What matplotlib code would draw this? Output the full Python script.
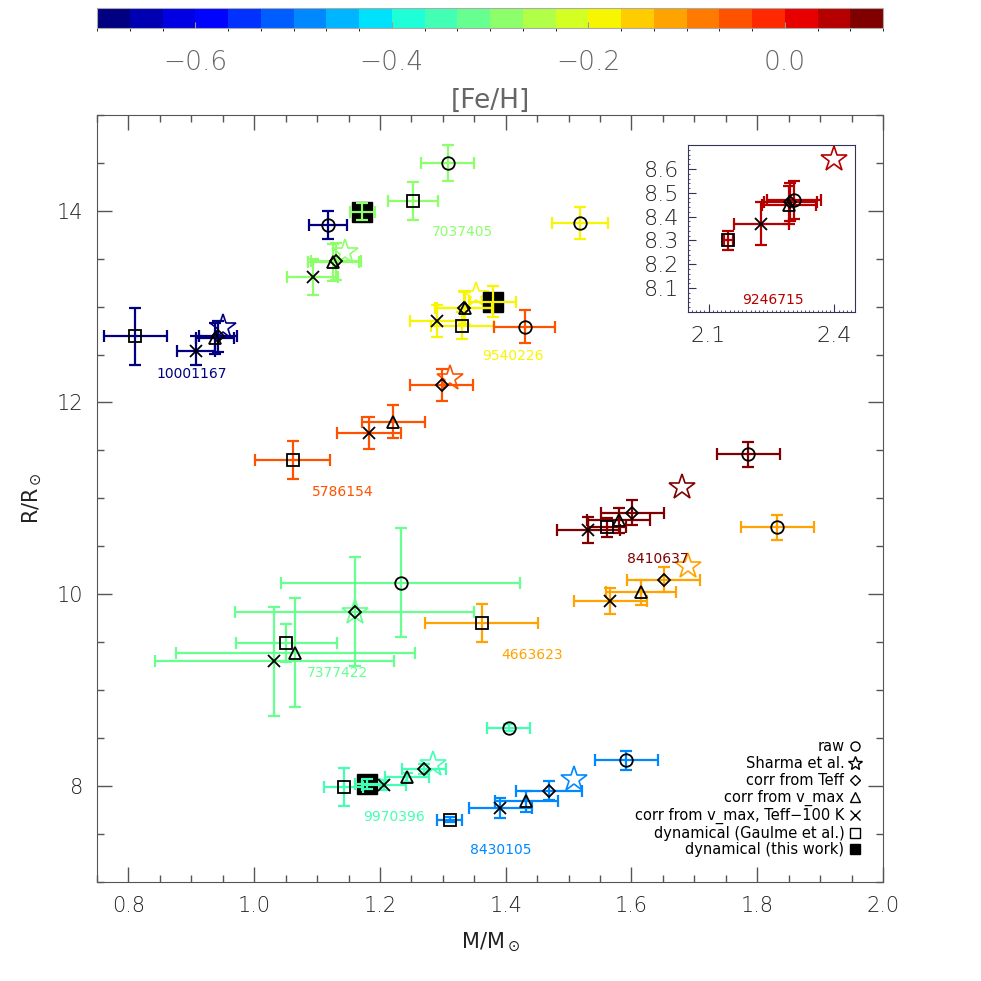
import numpy as np
import matplotlib
matplotlib.use("Agg")
import matplotlib.pyplot as plt
from matplotlib.colors import BoundaryNorm
from matplotlib.cm import ScalarMappable
from matplotlib.lines import Line2D
from matplotlib.ticker import MultipleLocator

plt.rcParams['font.family'] = ['DejaVu Sans']
plt.rcParams['font.weight'] = 'light'
plt.rcParams['mathtext.default'] = 'regular'

# estrellas y metalicidad
ids = ['10001167', '7037405', '9540226', '5786154', '8410637',
       '4663623', '7377422', '9970396', '8430105', '9246715']
feh = [-0.69, -0.283, -0.183, -0.05, 0.083, -0.115, -0.317, -0.35, -0.483, 0.05]

# raw (circulo)
raw_m = [1.117, 1.308, 1.518, 1.430, 1.786, 1.832, 1.233, 1.405, 1.592, 2.303]
raw_me = [0.030, 0.042, 0.045, 0.049, 0.050, 0.058, 0.190, 0.034, 0.050, 0.064]
raw_r = [13.85, 14.50, 13.87, 12.79, 11.46, 10.70, 10.12, 8.61, 8.27, 8.47]
raw_re = [0.15, 0.19, 0.17, 0.17, 0.13, 0.13, 0.57, 0.04, 0.10, 0.08]

# Sharma et al. (estrella, sin error)
sha_m = [0.951, 1.144, 1.352, 1.312, 1.681, 1.690, 1.160, 1.285, 1.509, 2.399]
sha_r = [12.79, 13.57, 13.12, 12.26, 11.12, 10.29, 9.82, 8.23, 8.07, 8.64]

# corr from Teff (diamante)
tef_m = [0.942, 1.130, 1.333, 1.298, 1.601, 1.651, 1.160, 1.270, 1.469, 2.295]
tef_me = [0.030, 0.040, 0.045, 0.050, 0.050, 0.058, 0.190, 0.035, 0.052, 0.064]
tef_r = [12.69, 13.47, 12.99, 12.18, 10.85, 10.15, 9.82, 8.18, 7.95, 8.46]
tef_re = [0.16, 0.19, 0.17, 0.17, 0.13, 0.13, 0.57, 0.05, 0.10, 0.08]

# corr from v_max (triangulo)
vmx_m = [0.938, 1.126, 1.335, 1.221, 1.580, 1.615, 1.065, 1.243, 1.433, 2.292]
vmx_me = [0.030, 0.040, 0.045, 0.050, 0.050, 0.056, 0.190, 0.035, 0.050, 0.064]
vmx_r = [12.67, 13.46, 12.98, 11.80, 10.77, 10.02, 9.39, 8.09, 7.84, 8.45]
vmx_re = [0.16, 0.19, 0.17, 0.17, 0.13, 0.13, 0.57, 0.05, 0.11, 0.08]

# corr from v_max, Teff-100 K (cruz)
t100_m = [0.907, 1.093, 1.291, 1.182, 1.531, 1.566, 1.032, 1.206, 1.391, 2.226]
t100_me = [0.030, 0.041, 0.044, 0.051, 0.050, 0.058, 0.190, 0.035, 0.050, 0.066]
t100_r = [12.54, 13.31, 12.85, 11.68, 10.67, 9.93, 9.30, 8.01, 7.77, 8.37]
t100_re = [0.15, 0.19, 0.17, 0.17, 0.14, 0.14, 0.57, 0.05, 0.10, 0.09]

# dinamico (Gaulme et al.) (cuadrado abierto)
gau_m = [0.811, 1.252, 1.331, 1.061, 1.561, 1.362, 1.051, 1.142, 1.311, 2.147]
gau_me = [0.050, 0.040, 0.050, 0.060, 0.030, 0.090, 0.080, 0.031, 0.020, 0.010]
gau_r = [12.69, 14.10, 12.80, 11.40, 10.70, 9.70, 9.49, 7.99, 7.65, 8.30]
gau_re = [0.30, 0.20, 0.14, 0.20, 0.10, 0.20, 0.20, 0.20, 0.03, 0.04]

# dinamico (este trabajo) (cuadrado lleno)
dyn_ids = ['7037405', '9540226', '9970396']
dyn_m = [1.172, 1.379, 1.180]
dyn_me = [0.020, 0.038, 0.020]
dyn_r = [13.99, 13.05, 8.02]
dyn_re = [0.09, 0.16, 0.05]

# posicion de etiquetas
lab_m = [0.900, 1.332, 1.412, 1.141, 1.642, 1.442, 1.132, 1.223, 1.392, 2.253]
lab_r = [12.30, 13.78, 12.48, 11.07, 10.37, 9.37, 9.18, 7.68, 7.33, 8.05]

cmap = plt.get_cmap('jet')
norm = BoundaryNorm(np.linspace(-0.7, 0.1, 25), cmap.N)
cols = [cmap(norm(f)) for f in feh]

fig = plt.figure(figsize=(9.81, 9.81), dpi=100)
ax = fig.add_axes([0.0989, 0.101, 0.8012, 0.782])
axi = fig.add_axes([0.701, 0.682, 0.171, 0.170])
cax = fig.add_axes([0.0989, 0.9715, 0.8012, 0.0204])

grey = '#555555'


def dibuja(a, idx):
    sets = [
        (gau_m, gau_me, gau_r, gau_re, 's', 9),
        (t100_m, t100_me, t100_r, t100_re, 'x', 9),
        (vmx_m, vmx_me, vmx_r, vmx_re, '^', 8),
        (tef_m, tef_me, tef_r, tef_re, 'D', 6),
        (raw_m, raw_me, raw_r, raw_re, 'o', 9),
    ]
    for i in idx:
        a.plot(sha_m[i], sha_r[i], '*', ms=19, mfc='none', mec=cols[i], mew=1.2, zorder=2)
    for j, sid in enumerate(dyn_ids):
        i = ids.index(sid)
        if i not in idx:
            continue
        a.plot(dyn_m[j], dyn_r[j], 's', ms=14, color='black', zorder=2)
        a.errorbar(dyn_m[j], dyn_r[j], xerr=dyn_me[j], yerr=dyn_re[j], fmt='none',
                   ecolor=cols[i], elinewidth=1.6, capsize=4.5, capthick=1.6, zorder=3)
    for m, me, r, re, mk, ms in sets:
        for i in idx:
            a.plot(m[i], r[i], mk, ms=ms, mfc='none', mec='black', mew=1.3, zorder=4)
            a.errorbar(m[i], r[i], xerr=me[i], yerr=re[i], fmt='none',
                       ecolor=cols[i], elinewidth=1.6, capsize=4.5, capthick=1.6, zorder=3)
    for i in idx:
        a.text(lab_m[i], lab_r[i], ids[i], color=cols[i], fontsize=10,
               fontweight='normal', ha='center', va='center')


dibuja(ax, range(9))
ax.set_xlim(0.75, 2.0)
ax.set_ylim(7.0, 15.0)
ax.xaxis.set_minor_locator(MultipleLocator(0.05))
ax.yaxis.set_major_locator(MultipleLocator(2))
ax.yaxis.set_minor_locator(MultipleLocator(0.5))
ax.set_xticks([0.8, 1.0, 1.2, 1.4, 1.6, 1.8, 2.0])
ax.set_xticklabels(['0.8', '1.0', '1.2', '1.4', '1.6', '1.8', '2.0'])
ax.tick_params(which='both', direction='in', top=True, right=True, colors=grey,
               labelcolor='#222222', labelsize=15, pad=10)
ax.tick_params(which='major', length=11, width=1)
ax.tick_params(which='minor', length=5, width=1)
for s in ax.spines.values():
    s.set_color(grey)
ax.set_xlabel(r'M/M$_\odot$', fontsize=15, color='#222222', labelpad=11)
ax.set_ylabel(r'R/R$_\odot$', fontsize=15, color='#222222', labelpad=9)

# leyenda
marks = [('o', 'none', 6.5), ('*', 'none', 10), ('D', 'none', 5), ('^', 'none', 6.5),
         ('x', 'none', 6.5), ('s', 'none', 6.5), ('s', 'black', 6.5)]
names = ['raw', 'Sharma et al.', 'corr from Teff', 'corr from v_max',
         'corr from v_max, Teff\u2212100 K', 'dynamical (Gaulme et al.)',
         'dynamical (this work)']
handles = [Line2D([], [], ls='none', marker=mk, ms=ms, mfc=fc, mec='black', mew=1.0)
           for mk, fc, ms in marks]
ax.legend(handles, names, loc='lower right', bbox_to_anchor=(0.973, 0.032),
          frameon=False, markerfirst=False, labelspacing=0.12,
          prop={'size': 10.5, 'weight': 'normal'},
          handlelength=0.9, handletextpad=0.3, borderpad=0, borderaxespad=0)

# recuadro
dibuja(axi, [9])
axi.set_xlim(2.05, 2.45)
axi.set_ylim(8.0, 8.7)
axi.set_xticks([2.1, 2.4])
axi.set_yticks([8.1, 8.2, 8.3, 8.4, 8.5, 8.6])
axi.xaxis.set_minor_locator(MultipleLocator(0.01))
axi.yaxis.set_minor_locator(MultipleLocator(0.02))
axi.tick_params(which='both', direction='in', colors='#333355',
                labelcolor='#222222', labelsize=16)
axi.tick_params(which='major', length=6, pad=10)
axi.tick_params(which='minor', length=1.5)
axi.tick_params(axis='y', which='major', pad=6)
for s in axi.spines.values():
    s.set_color('#333355')

# barra de color
sm = ScalarMappable(norm=norm, cmap=cmap)
cb = fig.colorbar(sm, cax=cax, orientation='horizontal', ticks=[-0.6, -0.4, -0.2, 0.0])
cb.ax.set_xticklabels(['\u22120.6', '\u22120.4', '\u22120.2', '0.0'])
cb.ax.tick_params(direction='in', length=4, colors='#999999', labelcolor='#666666',
                  labelsize=19, pad=16)
cb.outline.set_edgecolor('#aaaaaa')
cb.set_label('[Fe/H]', fontsize=19, color='#666666', labelpad=9)

fig.savefig('out.png', dpi=100)
